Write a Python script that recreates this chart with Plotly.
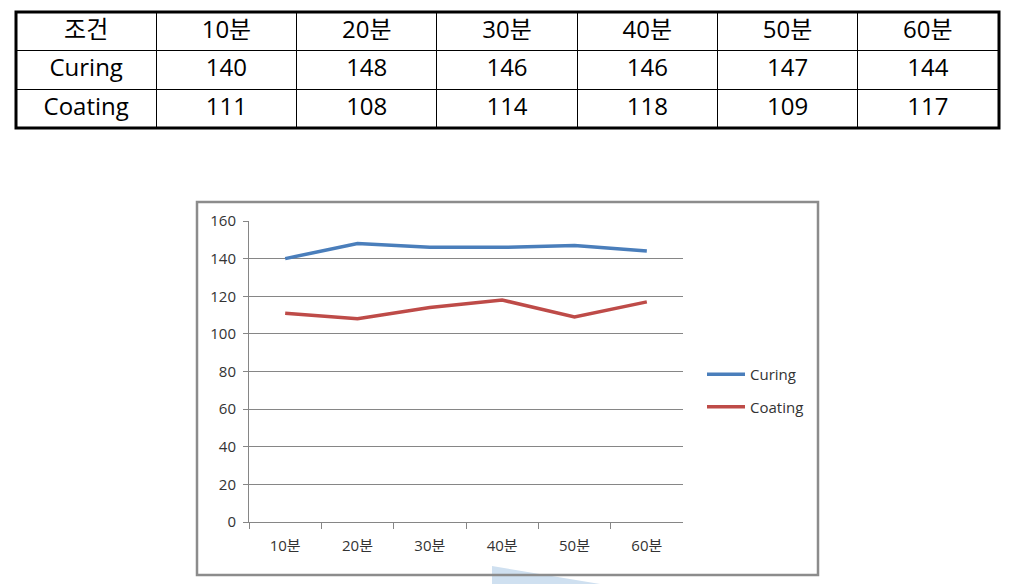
import plotly.graph_objects as go

# data
times = ['10분', '20분', '30분', '40분', '50분', '60분']
curing = [140, 148, 146, 146, 147, 144]
coating = [111, 108, 114, 118, 109, 117]
row_labels = ['Curing', 'Coating']
header_label = '조건'
y_ticks = [0, 20, 40, 60, 80, 100, 120, 140, 160]

W, H = 1012, 584
font_family = 'Open Sans, Noto Sans CJK KR, sans-serif'


def px(x):
    return x / W


def py(y):
    return 1 - y / H


fig = go.Figure()

# table on top
columns = [row_labels] + [[c, o] for c, o in zip(curing, coating)]
fig.add_trace(go.Table(
    domain=dict(x=[px(16), px(999)], y=[py(128), py(12)]),
    columnwidth=[1] * 7,
    header=dict(values=[header_label] + times, height=38, align='center',
                fill_color='white', line=dict(color='black', width=1),
                font=dict(family=font_family, size=24, color='black')),
    cells=dict(values=columns, height=39, align='center',
               fill_color='white', line=dict(color='black', width=1),
               font=dict(family=font_family, size=24, color='black')),
))

# line chart
fig.add_trace(go.Scatter(x=times, y=curing, name='Curing', mode='lines', legendgroup='curing',
                         line=dict(color='#4a7ebb', width=3.5)))
fig.add_trace(go.Scatter(x=times, y=coating, name='Coating', mode='lines', legendgroup='coating',
                         line=dict(color='#be4b48', width=3.5)))

fig.update_xaxes(domain=[px(249), px(683)], range=[-0.5, 5.5], automargin=False,
                 showline=True, linecolor='#868686', linewidth=1,
                 ticks='outside', tickson='boundaries', ticklen=6, tickcolor='#868686',
                 ticklabelstandoff=10,
                 showgrid=False, tickfont=dict(family=font_family, size=15, color='#333'))
fig.update_yaxes(domain=[py(522), py(221)], range=[0, 160], tickvals=y_ticks, automargin=False,
                 showline=True, linecolor='#868686', linewidth=1,
                 ticks='outside', ticklen=5, tickcolor='#868686', ticklabelstandoff=4,
                 showgrid=True, gridcolor='#868686', gridwidth=1, zeroline=False,
                 tickfont=dict(family=font_family, size=15, color='#333'))

# faint blue fragment under the chart frame
fig.add_shape(type='path', xref='paper', yref='paper', layer='below',
              path=f'M {px(492)},{py(566)} L {px(600)},{py(584)} L {px(492)},{py(584)} Z',
              fillcolor='#cfe0f0', line=dict(width=0))
# chart frame + thick table border
fig.add_shape(type='rect', xref='paper', yref='paper',
              x0=px(197), x1=px(818), y0=py(575), y1=py(202),
              line=dict(color='#8c8c8c', width=2.5))
fig.add_shape(type='rect', xref='paper', yref='paper',
              x0=px(16), x1=px(999), y0=py(128), y1=py(12),
              line=dict(color='black', width=3))

fig.update_layout(
    width=W, height=H, margin=dict(l=0, r=0, t=0, b=0, autoexpand=False),
    paper_bgcolor='white', plot_bgcolor='white',
    showlegend=True,
    legend=dict(x=px(702), y=py(358), xanchor='left', yanchor='top',
                font=dict(family=font_family, size=15, color='#333'),
                traceorder='grouped', tracegroupgap=10, itemwidth=38),
)

fig.write_html('out.html', config={'displayModeBar': False},
               post_script="document.body.style.margin='0';document.body.style.overflow='hidden';")
